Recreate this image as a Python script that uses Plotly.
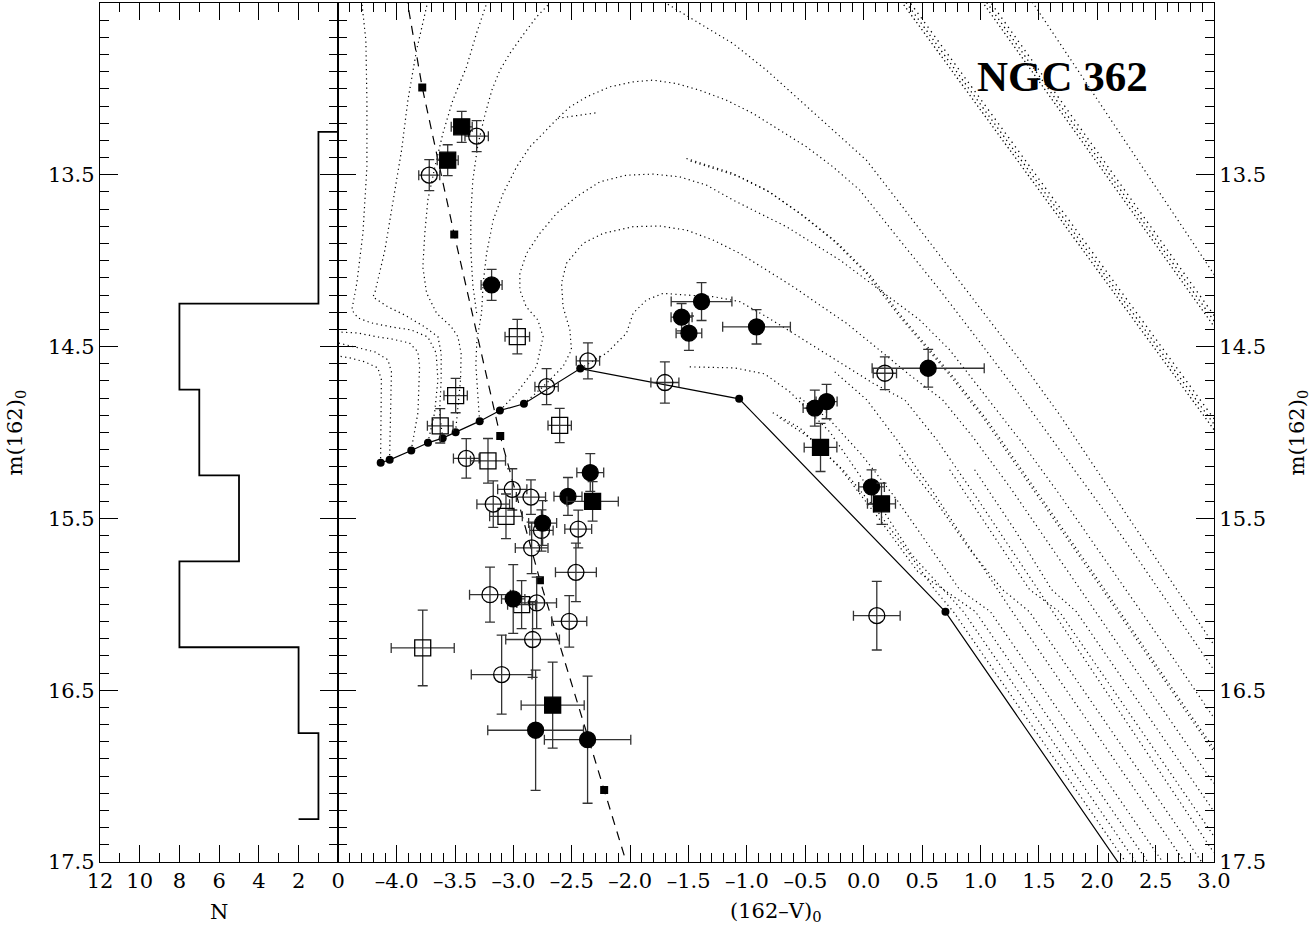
import plotly.graph_objects as go
import numpy as np

# ---------------- data ----------------
# histogram of m(162)_0 (left panel)
hist_bin_starts = [13.25, 14.25, 14.75, 15.25, 15.75, 16.25, 16.75, 17.25]
hist_counts = [1, 8, 7, 5, 8, 2, 1, 2]

# filled circles
fc_x = [-3.187, -1.389, -1.560, -1.497, -0.918, 0.552, -0.419, -0.318, 0.067, -2.342, -2.533, -2.750, -3.002, -2.810, -2.365]
fc_m = [14.141, 14.238, 14.329, 14.422, 14.385, 14.626, 14.858, 14.820, 15.317, 15.233, 15.372, 15.527, 15.969, 16.733, 16.788]
fc_ex = [0.09, 0.26, 0.09, 0.11, 0.29, 0.48, 0.10, 0.09, 0.11, 0.115, 0.12, 0.12, 0.10, 0.41, 0.37]
fc_em = [0.09, 0.11, 0.08, 0.10, 0.10, 0.11, 0.105, 0.10, 0.10, 0.11, 0.11, 0.13, 0.20, 0.35, 0.37]

# filled squares
fs_x = [-3.443, -3.563, -0.370, 0.152, -2.322, -2.664]
fs_m = [13.221, 13.415, 15.087, 15.415, 15.401, 16.587]
fs_ex = [0.09, 0.09, 0.14, 0.12, 0.22, 0.27]
fs_em = [0.09, 0.09, 0.14, 0.12, 0.115, 0.25]

# open circles
oc_x = [-3.315, -3.721, -2.362, -2.716, -1.703, 0.181, -3.404, -3.173, -3.010, -2.850, -2.760, -2.445, -2.844, -2.465, -3.201, -2.801, -2.522, -2.836, -3.101, 0.112]
oc_m = [13.275, 13.502, 14.583, 14.733, 14.709, 14.655, 15.151, 15.417, 15.331, 15.376, 15.570, 15.562, 15.672, 15.814, 15.944, 15.992, 16.099, 16.205, 16.409, 16.066]
oc_ex = [0.10, 0.09, 0.10, 0.10, 0.12, 0.10, 0.11, 0.14, 0.125, 0.125, 0.10, 0.115, 0.14, 0.175, 0.175, 0.17, 0.15, 0.23, 0.26, 0.20]
oc_em = [0.09, 0.09, 0.105, 0.105, 0.12, 0.095, 0.115, 0.135, 0.12, 0.10, 0.12, 0.11, 0.15, 0.17, 0.16, 0.15, 0.15, 0.22, 0.23, 0.20]

# open squares
os_x = [-2.967, -3.495, -3.627, -2.604, -3.218, -3.064, -2.930, -3.777]
os_m = [14.442, 14.785, 14.961, 14.959, 15.165, 15.488, 16.002, 16.254]
os_ex = [0.105, 0.10, 0.11, 0.10, 0.15, 0.14, 0.12, 0.27]
os_em = [0.10, 0.10, 0.10, 0.10, 0.13, 0.13, 0.14, 0.22]

# model sequence (dashed line with small squares)
mod_x = [-3.920, -3.781, -3.507, -3.113, -2.773, -2.223, -1.980]
mod_m = [12.450, 12.992, 13.847, 15.021, 15.860, 17.081, 17.620]

# zero-age horizontal branch (solid line with small dots)
zahb_x = [-4.137, -4.060, -3.875, -3.732, -3.606, -3.495, -3.289, -3.116, -2.910, -2.428, -1.067, 0.700, 2.300]
zahb_m = [15.176, 15.159, 15.105, 15.060, 15.033, 14.998, 14.934, 14.872, 14.833, 14.628, 14.804, 16.044, 17.622]

# evolutionary tracks (dotted)
trk_a_x = [-4.138, -4.135, -4.131, -4.161, -4.272, -4.400, -4.503]
trk_a_m = [15.176, 14.926, 14.694, 14.624, 14.589, 14.566, 14.554]
trk_b_x = [-4.061, -4.050, -4.045, -4.075, -4.187, -4.358, -4.503]
trk_b_m = [15.159, 14.810, 14.647, 14.577, 14.531, 14.502, 14.479]
trk_c_x = [-3.876, -3.818, -3.804, -3.818, -3.890, -4.047, -4.161, -4.332, -4.503]
trk_c_m = [15.105, 14.885, 14.618, 14.531, 14.479, 14.455, 14.444, 14.421, 14.415]
trk_d_x = [-3.733, -3.675, -3.647, -3.662, -3.733, -3.876, -4.047, -4.218, -4.332, -4.384, -4.341, -4.289, -4.255, -4.255, -4.264, -4.298]
trk_d_m = [15.060, 14.885, 14.694, 14.537, 14.444, 14.403, 14.385, 14.362, 14.333, 14.287, 14.130, 13.839, 13.455, 13.066, 12.717, 12.502]
trk_e_x = [-3.606, -3.633, -3.619, -3.619, -3.647, -3.761, -3.932, -4.075, -4.204, -4.187, -4.101, -4.032, -3.958, -3.904, -3.830, -3.741]
trk_e_m = [15.033, 14.885, 14.694, 14.537, 14.442, 14.385, 14.316, 14.269, 14.211, 14.188, 13.938, 13.647, 13.357, 13.066, 12.775, 12.513]
trk_f_x = [-3.496, -3.476, -3.453, -3.448, -3.476, -3.533, -3.658, -3.744, -3.776, -3.759, -3.733, -3.673, -3.604, -3.519, -3.402, -3.316, -3.230]
trk_f_m = [14.998, 14.849, 14.694, 14.538, 14.442, 14.384, 14.306, 14.188, 14.037, 13.839, 13.647, 13.455, 13.258, 13.066, 12.872, 12.676, 12.503]
trk_g_x = [-3.290, -3.305, -3.322, -3.313, -3.273, -3.259, -3.230, -3.173, -3.088, -2.973, -2.859, -2.746, -2.620, -2.517, -2.374, -2.175, -1.975, -1.804, -1.604, -1.404, -1.175, -0.948, -0.719, -0.491, -0.263, -0.034, 0.308, 0.651, 0.993, 1.336, 1.678, 2.021, 2.364, 2.706, 2.997]
trk_g_m = [14.934, 14.769, 14.606, 14.461, 14.306, 14.131, 13.957, 13.763, 13.608, 13.454, 13.337, 13.259, 13.170, 13.105, 13.047, 12.988, 12.959, 12.949, 12.969, 13.008, 13.066, 13.143, 13.240, 13.337, 13.454, 13.589, 13.880, 14.170, 14.473, 14.781, 15.101, 15.420, 15.752, 16.089, 16.380]
trk_z1_x = [-2.706, -2.802, -2.931, -3.031, -3.116, -3.185, -3.245, -3.305, -3.348, -3.365, -3.365, -3.348, -3.313]
trk_z1_m = [12.513, 12.581, 12.698, 12.794, 12.891, 13.008, 13.153, 13.327, 13.531, 13.734, 13.938, 14.141, 14.316]
trk_s1_x = [-2.620, -2.517, -2.432, -2.289]
trk_s1_m = [13.171, 13.163, 13.153, 13.139]
trk_r2_x = [-3.116, -2.973, -2.802, -2.746, -2.791, -2.891, -2.945, -2.945, -2.887, -2.774, -2.631, -2.460, -2.260, -2.032, -1.804, -1.575, -1.347, -1.119, -0.890, -0.662, -0.434, -0.205, 0.023, 0.251, 0.479, 0.736, 1.036, 1.336, 1.678, 2.021, 2.364, 2.706, 2.997]
trk_r2_m = [14.872, 14.771, 14.616, 14.442, 14.345, 14.268, 14.170, 14.073, 13.957, 13.841, 13.725, 13.628, 13.541, 13.502, 13.496, 13.512, 13.560, 13.647, 13.725, 13.802, 13.899, 13.996, 14.112, 14.229, 14.345, 14.519, 14.781, 15.042, 15.362, 15.694, 16.031, 16.368, 16.659]
trk_r3_x = [-2.911, -2.746, -2.575, -2.503, -2.517, -2.575, -2.588, -2.546, -2.403, -2.232, -1.975, -1.747, -1.518, -1.290, -1.062, -0.833, -0.605, -0.377, -0.148, 0.080, 0.394, 0.676, 0.933, 1.250, 1.592, 1.935, 2.278, 2.621, 2.997]
trk_r3_m = [14.833, 14.733, 14.616, 14.519, 14.403, 14.268, 14.131, 14.015, 13.899, 13.841, 13.802, 13.798, 13.822, 13.880, 13.957, 14.054, 14.151, 14.258, 14.364, 14.490, 14.665, 14.810, 15.025, 15.316, 15.653, 15.990, 16.333, 16.670, 17.042]
trk_r1_x = [-2.429, -2.203, -2.032, -1.975, -1.861, -1.718, -1.518, -1.290, -1.062, -0.833, -0.605, -0.377, -0.148, 0.080, 0.351, 0.625, 0.950, 1.293, 1.635, 1.978, 2.321, 2.663, 2.997]
trk_r1_m = [14.628, 14.538, 14.422, 14.306, 14.229, 14.190, 14.200, 14.209, 14.238, 14.326, 14.422, 14.519, 14.616, 14.713, 14.810, 15.042, 15.362, 15.711, 16.060, 16.409, 16.758, 17.106, 17.444]
trk_z2_x = [-1.950, -1.690, -1.404, -1.119, -0.833, -0.548, -0.263, 0.023, 0.308, 0.651, 0.993, 1.336, 1.678, 2.021, 2.364, 2.706, 2.997]
trk_z2_m = [12.400, 12.502, 12.620, 12.736, 12.891, 13.066, 13.240, 13.415, 13.665, 13.967, 14.269, 14.577, 14.897, 15.246, 15.595, 15.944, 16.234]
trk_dl1_x = [-1.518, -1.119, -0.833, -0.548, -0.263, 0.023, 0.308, 0.479, 0.736, 1.036, 1.336, 1.678, 2.021, 2.364, 2.706, 2.997]
trk_dl1_m = [13.405, 13.492, 13.589, 13.725, 13.880, 14.073, 14.326, 14.461, 14.665, 14.926, 15.217, 15.554, 15.891, 16.234, 16.572, 16.856]
trk_dl2_x = [-1.483, -1.084, -0.798, -0.513, -0.228, 0.058, 0.343, 0.514, 0.771, 1.071, 1.371, 1.713, 2.056, 2.399, 2.741, 3.032]
trk_dl2_m = [13.420, 13.507, 13.604, 13.740, 13.895, 14.088, 14.341, 14.476, 14.680, 14.941, 15.232, 15.569, 15.906, 16.249, 16.587, 16.871]
trk_h1_x = [-1.490, -1.104, -0.848, -0.634, -0.291, 0.051, 0.411, 0.854, 2.432]
trk_h1_m = [14.618, 14.624, 14.659, 14.763, 14.996, 15.333, 15.711, 16.043, 17.601]
trk_h2_x = [-0.779, -0.548, -0.205, 0.137, 0.463, 0.957, 2.535]
trk_h2_m = [14.885, 14.973, 15.205, 15.507, 15.810, 16.043, 17.601]
trk_h3_x = [-0.248, 0.026, 0.283, 0.582, 0.891, 1.207, 1.273, 2.851]
trk_h3_m = [14.647, 14.810, 15.042, 15.333, 15.653, 15.973, 16.043, 17.601]
trk_h4_x = [-0.548, -0.291, -0.017, 0.283, 0.582, 0.822, 1.085, 2.663]
trk_h4_m = [14.798, 14.926, 15.130, 15.391, 15.682, 15.915, 16.043, 17.601]
trk_h5_x = [-0.719, -0.462, -0.162, 0.120, 0.394, 0.608, 0.768, 2.346]
trk_h5_m = [14.915, 15.031, 15.229, 15.461, 15.711, 15.915, 16.043, 17.601]
trk_h6_x = [0.308, 0.608, 0.908, 1.190, 1.419, 2.997]
trk_h6_m = [15.130, 15.391, 15.682, 15.915, 16.043, 17.601]
trk_h8_x = [0.736, 1.079, 1.421, 1.676, 3.254]
trk_h8_m = [15.217, 15.566, 15.915, 16.043, 17.601]
trk_h9_x = [0.950, 1.293, 1.610, 1.821, 3.400]
trk_h9_m = [15.217, 15.566, 15.915, 16.043, 17.601]
# straight bundles (upper right)
trk_ba1_x = [0.278, 3.050]
trk_ba1_m = [12.450, 15.030]
trk_ba2_x = [0.312, 3.084]
trk_ba2_m = [12.450, 15.030]
trk_ba3_x = [0.346, 3.118]
trk_ba3_m = [12.450, 15.030]
trk_bb1_x = [0.970, 3.050]
trk_bb1_m = [12.450, 14.430]
trk_bb2_x = [1.004, 3.084]
trk_bb2_m = [12.450, 14.430]
trk_bb3_x = [1.038, 3.118]
trk_bb3_m = [12.450, 14.430]
trk_c1_x = [1.400, 3.050]
trk_c1_m = [12.450, 14.130]

# axis ticks / labels
n_tick_vals = [12, 10, 8, 6, 4, 2, 0]
n_tick_text = ["12", "10", "8", "6", "4", "2", "0"]
col_tick_vals = [-4.0, -3.5, -3.0, -2.5, -2.0, -1.5, -1.0, -0.5, 0.0, 0.5, 1.0, 1.5, 2.0, 2.5, 3.0]
col_tick_text = ["\u20134.0", "\u20133.5", "\u20133.0", "\u20132.5", "\u20132.0", "\u20131.5", "\u20131.0", "\u20130.5",
                 "0.0", "0.5", "1.0", "1.5", "2.0", "2.5", "3.0"]
mag_tick_vals = [13.5, 14.5, 15.5, 16.5, 17.5]
mag_tick_text = ["13.5", "14.5", "15.5", "16.5", "17.5"]

# ---------------- figure ----------------
FONT = "DejaVu Serif, serif"
FONT_B = "Liberation Serif, Times New Roman, serif"
W, H = 1312, 928
L, R, T, B = 100, 98, 3, 66
split = (338.3 - L) / (W - L - R)

fig = go.Figure()

tracks = [
    (trk_a_x, trk_a_m), (trk_b_x, trk_b_m), (trk_c_x, trk_c_m), (trk_d_x, trk_d_m),
    (trk_e_x, trk_e_m), (trk_f_x, trk_f_m), (trk_g_x, trk_g_m), (trk_z1_x, trk_z1_m),
    (trk_s1_x, trk_s1_m), (trk_r2_x, trk_r2_m), (trk_r3_x, trk_r3_m), (trk_r1_x, trk_r1_m),
    (trk_z2_x, trk_z2_m), (trk_dl1_x, trk_dl1_m), (trk_dl2_x, trk_dl2_m),
    (trk_h1_x, trk_h1_m), (trk_h2_x, trk_h2_m), (trk_h3_x, trk_h3_m), (trk_h4_x, trk_h4_m),
    (trk_h5_x, trk_h5_m), (trk_h6_x, trk_h6_m), (trk_h8_x, trk_h8_m), (trk_h9_x, trk_h9_m),
    (trk_c1_x, trk_c1_m),
]
for tx, tm in tracks:
    fig.add_trace(go.Scatter(x=tx, y=tm, xaxis="x2", yaxis="y2", mode="lines",
                             line=dict(color="black", width=1.2, dash="1.2px,3.4px"),
                             hoverinfo="skip", showlegend=False))

bundles = [
    (trk_ba1_x, trk_ba1_m, "1.3px,3px"), (trk_ba2_x, trk_ba2_m, "1.3px,3.7px"), (trk_ba3_x, trk_ba3_m, "1.3px,4.4px"),
    (trk_bb1_x, trk_bb1_m, "1.3px,3px"), (trk_bb2_x, trk_bb2_m, "1.3px,3.7px"), (trk_bb3_x, trk_bb3_m, "1.3px,4.4px"),
]
for tx, tm, dsh in bundles:
    fig.add_trace(go.Scatter(x=tx, y=tm, xaxis="x2", yaxis="y2", mode="lines",
                             line=dict(color="black", width=1.3, dash=dsh),
                             hoverinfo="skip", showlegend=False))

# ZAHB
fig.add_trace(go.Scatter(x=zahb_x, y=zahb_m, xaxis="x2", yaxis="y2", mode="lines+markers",
                         line=dict(color="black", width=1.2),
                         marker=dict(symbol="circle", size=8, color="black"),
                         hoverinfo="skip", showlegend=False))
# model sequence
fig.add_trace(go.Scatter(x=mod_x, y=mod_m, xaxis="x2", yaxis="y2", mode="lines+markers",
                         line=dict(color="black", width=1.2, dash="9px,7px"),
                         marker=dict(symbol="square", size=8, color="black"),
                         hoverinfo="skip", showlegend=False))

ERR = dict(type="data", visible=True, color="#333333", thickness=1.3, width=5)


def stars(x, m, ex, em, symbol):
    fig.add_trace(go.Scatter(
        x=x, y=m, xaxis="x2", yaxis="y2", mode="markers",
        error_x=dict(array=ex, **ERR), error_y=dict(array=em, **ERR),
        marker=dict(symbol=symbol, size=16, color="black", line=dict(color="black", width=1.3)),
        hoverinfo="skip", showlegend=False))


stars(oc_x, oc_m, oc_ex, oc_em, "circle-open")
stars(os_x, os_m, os_ex, os_em, "square-open")
stars(fc_x, fc_m, fc_ex, fc_em, "circle")
stars(fs_x, fs_m, fs_ex, fs_em, "square")

# histogram (left panel)
hx, hy = [0], [hist_bin_starts[0]]
for i, c in enumerate(hist_counts):
    end = hist_bin_starts[i + 1] if i + 1 < len(hist_bin_starts) else hist_bin_starts[i]
    hx += [c, c]
    hy += [hist_bin_starts[i], end]
fig.add_trace(go.Scatter(x=hx, y=hy, xaxis="x", yaxis="y", mode="lines",
                         line=dict(color="black", width=1.8, shape="linear"),
                         hoverinfo="skip", showlegend=False))

tickfont = dict(family=FONT, size=21, color="black")
common = dict(showline=True, linecolor="black", linewidth=1.3, mirror="ticks",
              ticks="inside", tickcolor="black", tickwidth=1.2, showgrid=False,
              zeroline=False, tickfont=tickfont, tickmode="array")


def minor(t0, dt, n):
    return dict(tickmode="linear", tick0=t0, dtick=dt, ticks="inside", ticklen=n,
                tickcolor="black", tickwidth=1.1, showgrid=False)


fig.update_layout(
    width=W, height=H,
    margin=dict(l=L, r=R, t=T, b=B),
    paper_bgcolor="white", plot_bgcolor="white",
    showlegend=False,
    xaxis=dict(domain=[0, split], range=[12, 0], anchor="y", tickvals=n_tick_vals,
               ticktext=n_tick_text, ticklen=17, minor=minor(0, 1, 9), **common),
    xaxis2=dict(domain=[split, 1], range=[-4.5, 3.0], anchor="y2", tickvals=col_tick_vals,
                ticktext=col_tick_text, ticklen=17, minor=minor(-4.5, 0.1, 9), **common),
    yaxis=dict(domain=[0, 1], range=[17.5, 12.5], anchor="x", side="left", tickvals=mag_tick_vals,
               ticktext=mag_tick_text, ticklen=18, minor=minor(12.5, 0.1, 9), **common),
    yaxis2=dict(domain=[0, 1], range=[17.5, 12.5], anchor="x2", side="right", tickvals=mag_tick_vals,
                ticktext=mag_tick_text, ticklen=18, minor=minor(12.5, 0.1, 9), **common),
)

pw = W - L - R
ph = H - T - B
annos = [
    dict(text="N", x=(219 - L) / pw, y=(H - B - 912) / ph, textangle=0),
    dict(text="(162\u2013V)<sub>0</sub>", x=(776 - L) / pw, y=(H - B - 912) / ph, textangle=0),
    dict(text="m(162)<sub>0</sub>", x=(15 - L) / pw, y=0.5, textangle=-90),
    dict(text="m(162)<sub>0</sub>", x=(1297 - L) / pw, y=0.5, textangle=-90),
]
for a in annos:
    fig.add_annotation(xref="paper", yref="paper", xanchor="center", yanchor="middle",
                       showarrow=False, font=dict(family=FONT, size=21, color="black"), **a)

fig.add_annotation(xref="x2", yref="y2", x=0.95, y=12.93, xanchor="left", yanchor="middle",
                   text="<b>NGC 362</b>", showarrow=False,
                   font=dict(family=FONT_B, size=43, color="black"))

fig.write_html("out.html", config={"displayModeBar": False},
               post_script="document.body.style.margin='0';document.body.style.overflow='hidden';")
